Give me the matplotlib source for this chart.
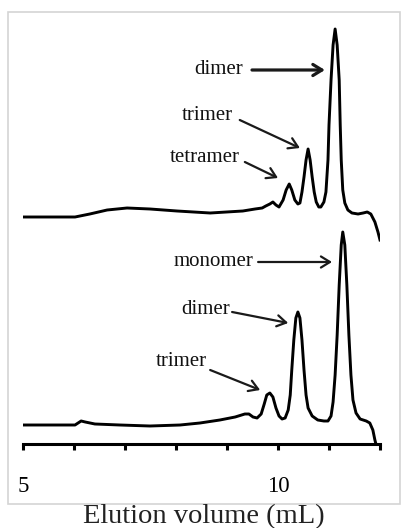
import matplotlib
matplotlib.use("Agg")
import matplotlib.pyplot as plt
from matplotlib.patches import Rectangle

plt.rcParams['font.family'] = ['Liberation Serif', 'DejaVu Serif']

# upper trace (elution volume in mL, signal in arbitrary units)
top_vol = [5.00, 6.02, 6.31, 6.65, 7.04, 7.49, 8.02, 8.67, 9.31, 9.55, 9.69, 9.76,
           9.84, 9.90, 9.96, 10.02, 10.10, 10.16, 10.22, 10.27, 10.33, 10.39, 10.43,
           10.47, 10.51, 10.55, 10.59, 10.63, 10.67, 10.71, 10.75, 10.80, 10.84, 10.90,
           10.94, 10.98, 11.00, 11.04, 11.08, 11.12, 11.16, 11.20, 11.22, 11.24, 11.27,
           11.31, 11.37, 11.45, 11.57, 11.67, 11.75, 11.82, 11.90, 11.96, 12.00]
top_sig = [227, 227, 230, 234, 236, 235, 233, 231, 233, 235, 236, 238,
           240, 242, 239, 237, 244, 254, 260, 254, 244, 240, 241,
           252, 267, 284, 295, 284, 267, 252, 242, 237, 237, 242,
           252, 284, 319, 364, 399, 415, 399, 364, 319, 284, 254,
           241, 234, 231, 230, 231, 232, 230, 222, 212, 204]

# lower trace
bot_vol = [5.00, 6.02, 6.08, 6.14, 6.22, 6.41, 6.90, 7.49, 8.08, 8.47, 8.86, 9.16,
           9.35, 9.43, 9.51, 9.59, 9.67, 9.73, 9.78, 9.84, 9.90, 9.96, 10.02, 10.08,
           10.14, 10.20, 10.24, 10.27, 10.31, 10.35, 10.39, 10.43, 10.47, 10.51, 10.55,
           10.59, 10.67, 10.78, 10.90, 10.98, 11.04, 11.08, 11.12, 11.16, 11.20, 11.24,
           11.27, 11.31, 11.35, 11.39, 11.43, 11.47, 11.53, 11.61, 11.73, 11.80, 11.86,
           11.90, 11.92]
bot_sig = [19, 19, 21, 23, 22, 20, 19, 18, 19, 21, 24, 27,
           30, 30, 27, 26, 30, 40, 49, 51, 47, 36, 28, 25,
           26, 34, 49, 74, 104, 126, 132, 126, 104, 74, 49,
           36, 28, 24, 23, 23, 28, 42, 69, 109, 159, 199,
           212, 199, 159, 109, 69, 44, 31, 25, 23, 21, 14,
           4, 0]

# label text, text anchor (right edge), arrow tail, arrow head
labels = ['dimer', 'trimer', 'tetramer', 'monomer', 'dimer', 'trimer']
label_xy = [(9.31, 374), (9.12, 329), (9.25, 286), (9.51, 182), (9.06, 134), (8.61, 82)]
arrow_from = [(9.49, 374), (9.25, 324), (9.35, 282), (9.61, 182), (9.10, 132), (8.67, 74)]
arrow_to = [(10.92, 374), (10.43, 296), (10.00, 266), (11.06, 182), (10.20, 121), (9.65, 54)]
arrow_lw = [2.3, 1.6, 1.6, 1.6, 1.6, 1.6]

fig = plt.figure(figsize=(4.02, 5.28), dpi=100)
fig.patches.append(Rectangle((8 / 402, 24 / 528), 392.5 / 402, 492 / 528,
                             transform=fig.transFigure, fill=False,
                             edgecolor='#d4d4d4', linewidth=1.2))

ax = fig.add_axes([23 / 402, 84 / 528, 357 / 402, 430 / 528])
ax.plot(top_vol, top_sig, color='black', lw=2.1, solid_joinstyle='round')
ax.plot(bot_vol, bot_sig, color='black', lw=2.1, solid_joinstyle='round')

for txt, xy, a, b, lw in zip(labels, label_xy, arrow_from, arrow_to, arrow_lw):
    ax.text(xy[0], xy[1], txt, ha='right', va='center', fontsize=15, color='#111111')
    ax.annotate('', xy=b, xytext=a,
                arrowprops=dict(arrowstyle='->,head_length=0.65,head_width=0.4',
                                color='#1a1a1a', lw=lw, shrinkA=0, shrinkB=0))

ax.set_xlim(5, 12)
ax.set_ylim(0, 430)
ax.set_xticks([5, 6, 7, 8, 9, 10, 11, 12])
ax.set_xticklabels(['5', '', '', '', '', '10', '', ''])
ax.set_yticks([])
for s in ['top', 'left', 'right']:
    ax.spines[s].set_visible(False)
ax.spines['bottom'].set_linewidth(2.2)
ax.tick_params(axis='x', direction='out', length=4, width=2.2, pad=19, labelsize=16.5)
ax.patch.set_alpha(0)

fig.text(203.5 / 402, 1 - 517 / 528, 'Elution volume (mL)', ha='center', va='center',
         fontsize=20.5, color='#222222')

fig.savefig('out.png', dpi=100)
